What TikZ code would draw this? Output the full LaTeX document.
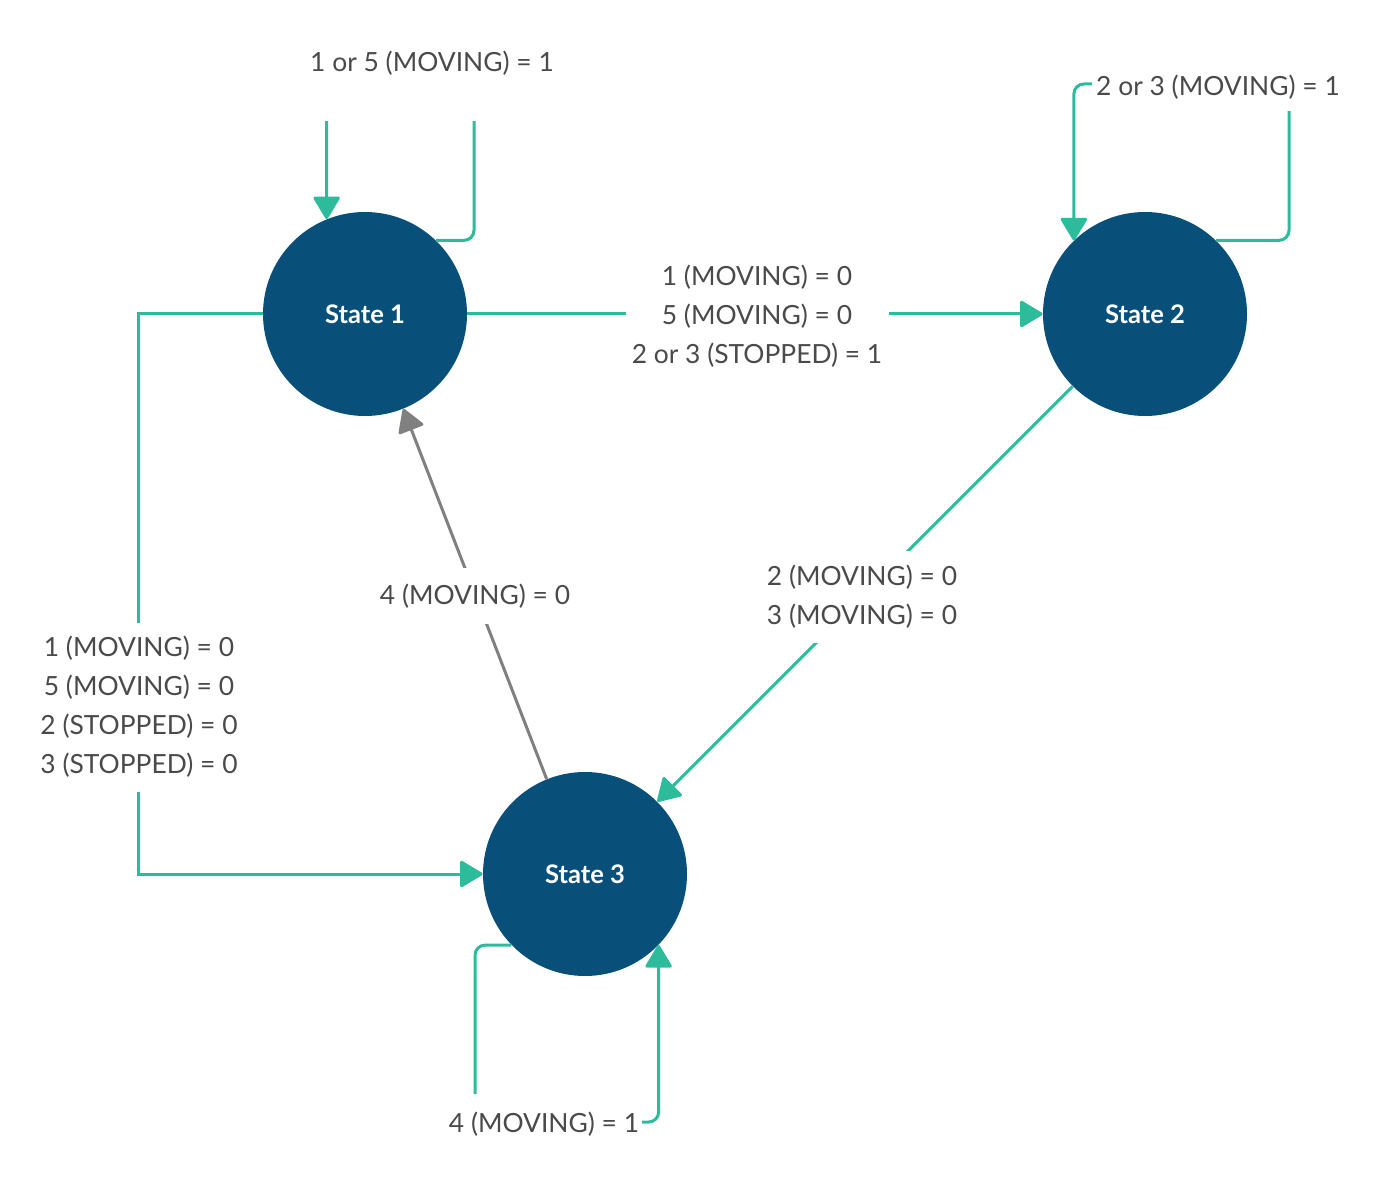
\documentclass[tikz,border=0pt]{standalone}
\usepackage{fontspec}
\setmainfont{Lato}
\usepackage{xcolor}
\usetikzlibrary{arrows.meta, positioning, calc}
\definecolor{stateblue}{RGB}{8,79,122}
\definecolor{flowteal}{RGB}{44,187,155}
\definecolor{labelgray}{RGB}{74,74,74}
\begin{document}
\begin{tikzpicture}[x=0.5pt, y=-0.5pt,
    state/.style={circle, fill=stateblue, minimum size=102pt, inner sep=0pt, text=white, font=\fontsize{12.8}{14}\selectfont\bfseries},
    flow/.style={draw=flowteal, line width=1.5pt, -{Triangle[length=12pt, width=14pt, round]}},
    back/.style={draw=gray, line width=1.5pt, -{Triangle[length=12pt, width=14pt, round]}},
    lbl/.style={fill=white, inner sep=0pt, text=labelgray, align=center, font=\fontsize{13.2}{19.5}\selectfont}]
    \useasboundingbox (0,0) rectangle (1381,1181);
    \node[state] (s1) at (365,314) {State 1};
    \node[state] (s2) at (1145,314) {State 2};
    \node[state] (s3) at (585,874) {State 3};
    \coordinate (top1) at (474,62);
    \coordinate (top2) at (1289,84);
    \coordinate (bot3) at (475,1122);
    \coordinate (left13) at (138,874);

    \draw[flow, rounded corners=5pt] (s1.46) -| (top1) -| (s1.112.6);
    \draw[flow, rounded corners=5pt] (s2.46) -| (top2) -| (s2.134);
    \draw[flow, rounded corners=5pt] (s3.224) -| (bot3) -| (s3.316);
    \draw[flow] (s1.east) -- (s2.west);
    \draw[flow] (s1.west) -| (left13) -- (s3.west);
    \draw[flow] (s2.225) -- (s3.45);
    \draw[back] (s3.112.8) -- (s1.292.5);

    \node[lbl, minimum width=125pt, minimum height=58pt] (l1) at (432,63) {1 or 5 (MOVING) = 1};
    \node[lbl, minimum width=126pt, minimum height=24pt] (l2) at (1218,87) {2 or 3 (MOVING) = 1};
    \node[lbl, minimum width=98pt, minimum height=30pt] (l3) at (544,1124) {4 (MOVING) = 1};
    \node[lbl, minimum width=131.5pt, minimum height=65pt] (l12) at (757,316) {1 (MOVING) = 0\\5 (MOVING) = 0\\2 or 3 (STOPPED) = 1};
    \node[lbl, minimum width=105pt, minimum height=84.5pt] (l13) at (139,707) {1 (MOVING) = 0\\5 (MOVING) = 0\\2 (STOPPED) = 0\\3 (STOPPED) = 0};
    \node[lbl, minimum width=100pt, minimum height=46pt] (l23) at (862,597) {2 (MOVING) = 0\\3 (MOVING) = 0};
    \node[lbl, minimum width=100pt, minimum height=27.5pt] (l31) at (475,596) {4 (MOVING) = 0};
\end{tikzpicture}
\end{document}
